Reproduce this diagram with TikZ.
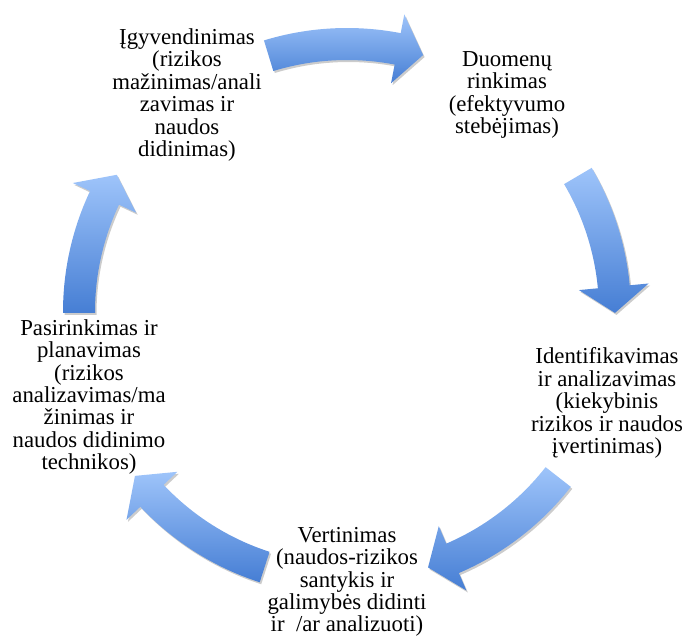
\documentclass[tikz,border=0pt]{standalone}
\usepackage{fontspec}
\setmainfont{Liberation Serif}
\usetikzlibrary{shadows}
\definecolor{arrowlight}{RGB}{158,196,250}
\definecolor{arrowdark}{RGB}{70,126,212}
\begin{document}
\begin{tikzpicture}[x=1pt, y=1pt,
  stage/.style={align=center, inner sep=0pt, font=\fontsize{22.8}{22.4}\selectfont},
  cycarrow/.style={top color=arrowlight, bottom color=arrowdark,
    drop shadow={shadow xshift=1.5pt, shadow yshift=-2pt, opacity=0.2, fill=black}}]
\useasboundingbox (-347,-326) rectangle (336,312);
\node[stage] (impl) at (-160,217) {Įgyvendinimas\\(rizikos\\mažinimas/anali\\zavimas ir\\naudos\\didinimas)};
\node[stage] (data) at (160,217) {Duomenų\\rinkimas\\(efektyvumo\\stebėjimas)};
\node[stage] (ident) at (260,-91) {Identifikavimas\\ir analizavimas\\(kiekybinis\\rizikos ir naudos\\įvertinimas)};
\node[stage] (eval) at (0,-270) {Vertinimas\\(naudos-rizikos\\santykis ir\\galimybės didinti\\ir\ \ /ar analizuoti)};
\node[stage] (plan) at (-258,-85) {Pasirinkimas ir\\planavimas\\(rizikos\\analizavimas/ma\\žinimas ir\\naudos didinimo\\technikos)};
\foreach \from/\tip in {107/73.5, 30.5/-0.2, -38/-72.4, -107.9/-142.3, 180.2/149.2} {
  \pgfmathsetmacro\base{\tip+5.6}
  \path[cycarrow] (\from:284) arc[start angle=\from, end angle=\base, radius=284]
    -- (\base:303) -- (\tip:268) -- (\base:233) -- (\base:252)
    arc[start angle=\base, end angle=\from, radius=252] -- cycle;
}
\end{tikzpicture}
\end{document}
